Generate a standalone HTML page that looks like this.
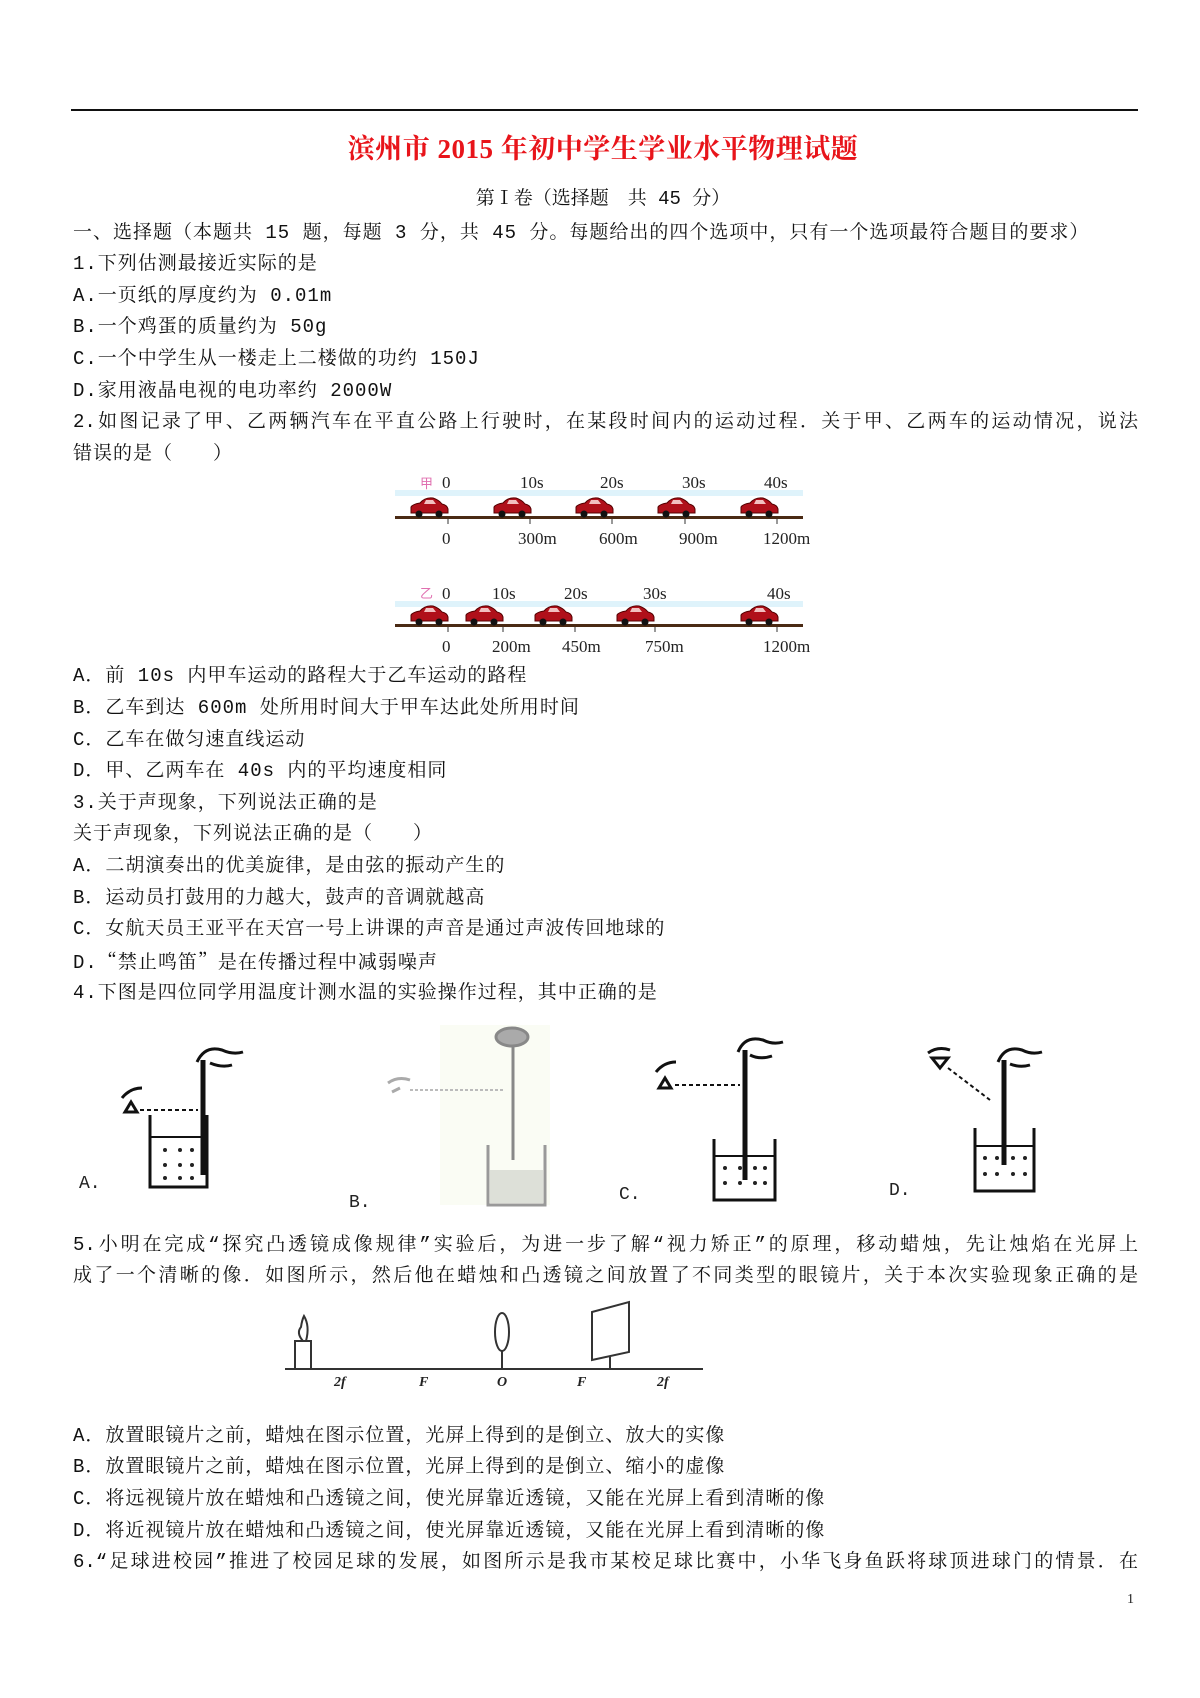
<!DOCTYPE html>
<html><head><meta charset="utf-8"><style>
body{margin:0;background:#fff;}
#p{position:relative;width:1200px;height:1698px;overflow:hidden;font-family:"Liberation Serif","Noto Serif CJK SC",serif;color:#111;}
.l{position:absolute;left:73px;font-size:19px;line-height:28px;white-space:nowrap;letter-spacing:1px;font-family:"Liberation Mono","Noto Serif CJK SC",serif;}
.j{width:1065px;text-align:justify;text-align-last:justify;white-space:normal;letter-spacing:0;}
.c{font-family:"Noto Serif CJK SC",serif;}
</style></head><body><div id="p">
<div style="position:absolute;left:71px;top:109px;width:1067px;height:2px;background:#111"></div>
<div style="position:absolute;left:0;width:1206px;top:127px;text-align:center;font-size:27px;font-weight:bold;color:#e8141a;letter-spacing:0.5px;">滨州市 2015 年初中学生学业水平物理试题</div>
<div style="position:absolute;left:0;width:1206px;top:183px;text-align:center;font-size:19px;font-family:'Liberation Mono','Noto Serif CJK SC',serif;">第Ⅰ卷（选择题　共 45 分）</div>
<div class="l" style="top:219px">一、选择题（本题共 15 题，每题 3 分，共 45 分。每题给出的四个选项中，只有一个选项最符合题目的要求）</div>
<div class="l" style="top:250px">1.下列估测最接近实际的是</div>
<div class="l" style="top:282px">A.一页纸的厚度约为 0.01m</div>
<div class="l" style="top:313px">B.一个鸡蛋的质量约为 50g</div>
<div class="l" style="top:345px">C.一个中学生从一楼走上二楼做的功约 150J</div>
<div class="l" style="top:377px">D.家用液晶电视的电功率约 2000W</div>
<div class="l j" style="top:408px">2.如图记录了甲、乙两辆汽车在平直公路上行驶时，在某段时间内的运动过程．关于甲、乙两车的运动情况，说法</div>
<div class="l" style="top:440px">错误的是（　　）</div>

<svg style="position:absolute;left:0;top:0" width="1200" height="1698" font-family="Liberation Serif, serif" font-size="17">
<defs>
<g id="car"><path d="M-18,7 L-18,1 Q-16,-2 -9,-3 Q-4,-9 4,-8 Q10,-6 13,-2 Q18,-1 19,3 L19,7 Z" fill="#b0101a" stroke="#500" stroke-width="1"/><circle cx="-10" cy="8" r="3.5" fill="#111"/><circle cx="10" cy="8" r="3.5" fill="#111"/><path d="M-3,-6 L4,-6 L7,-2 L-5,-2 Z" fill="#f2c0c0"/></g>
</defs>
<rect x="395" y="490" width="408" height="6" fill="#dff3fb"/>
<rect x="395" y="516" width="408" height="3" fill="#4a2a14"/>
<g fill="#222">
<text x="420" y="488" fill="#e070b0" font-size="13">甲</text>
<text x="442" y="488">0</text><text x="520" y="488">10s</text><text x="600" y="488">20s</text><text x="682" y="488">30s</text><text x="764" y="488">40s</text>
<text x="442" y="544">0</text><text x="518" y="544">300m</text><text x="599" y="544">600m</text><text x="679" y="544">900m</text><text x="763" y="544">1200m</text>
</g>
<g stroke="#333"><line x1="448" y1="519" x2="448" y2="524"/><line x1="530" y1="519" x2="530" y2="524"/><line x1="612" y1="519" x2="612" y2="524"/><line x1="685" y1="519" x2="685" y2="524"/><line x1="777" y1="519" x2="777" y2="524"/></g>
<use href="#car" x="429" y="506"/><use href="#car" x="512" y="506"/><use href="#car" x="594" y="506"/><use href="#car" x="676" y="506"/><use href="#car" x="759" y="506"/>

<rect x="395" y="601" width="408" height="6" fill="#dff3fb"/>
<rect x="395" y="624" width="408" height="3" fill="#4a2a14"/>
<g fill="#222">
<text x="420" y="598" fill="#e070b0" font-size="13">乙</text>
<text x="442" y="599">0</text><text x="492" y="599">10s</text><text x="564" y="599">20s</text><text x="643" y="599">30s</text><text x="767" y="599">40s</text>
<text x="442" y="652">0</text><text x="492" y="652">200m</text><text x="562" y="652">450m</text><text x="645" y="652">750m</text><text x="763" y="652">1200m</text>
</g>
<g stroke="#333"><line x1="448" y1="627" x2="448" y2="632"/><line x1="503" y1="627" x2="503" y2="632"/><line x1="575" y1="627" x2="575" y2="632"/><line x1="655" y1="627" x2="655" y2="632"/><line x1="777" y1="627" x2="777" y2="632"/></g>
<use href="#car" x="429" y="614"/><use href="#car" x="484" y="614"/><use href="#car" x="553" y="614"/><use href="#car" x="635" y="614"/><use href="#car" x="759" y="614"/>

<g stroke="#111" stroke-width="3" fill="none">
<path d="M150,1115 V1187 H207 V1115"/><line x1="150" y1="1137" x2="207" y2="1137" stroke-width="2"/>
<line x1="203" y1="1060" x2="203" y2="1175" stroke-width="5"/>
<path d="M197,1062 Q205,1045 222,1050 Q233,1055 243,1052 M210,1063 Q222,1068 232,1065" stroke-width="3"/>
<path d="M122,1098 Q130,1088 142,1088 M125,1112 L131,1102 L137,1112 Z" stroke-width="3"/>
<line x1="140" y1="1110" x2="198" y2="1110" stroke-dasharray="4,3" stroke-width="2"/>
<path d="M714,1139 V1200 H775 V1139"/><line x1="714" y1="1156" x2="775" y2="1156" stroke-width="2"/>
<line x1="745" y1="1050" x2="745" y2="1180" stroke-width="5"/>
<path d="M738,1052 Q745,1035 763,1040 Q773,1045 783,1042 M750,1055 Q760,1060 772,1056"/>
<path d="M656,1072 Q664,1062 676,1062 M659,1088 L665,1078 L671,1088 Z"/>
<line x1="675" y1="1085" x2="740" y2="1085" stroke-dasharray="4,3" stroke-width="2"/>
<path d="M975,1128 V1191 H1034 V1128"/><line x1="975" y1="1146" x2="1034" y2="1146" stroke-width="2"/>
<line x1="1004" y1="1060" x2="1004" y2="1165" stroke-width="5"/>
<path d="M998,1062 Q1005,1045 1022,1050 Q1032,1055 1042,1052 M1010,1064 Q1020,1068 1030,1065"/>
<path d="M928,1053 Q938,1046 950,1050 M932,1058 L948,1058 L940,1068 Z"/>
<line x1="948" y1="1068" x2="990" y2="1100" stroke-dasharray="4,3" stroke-width="2"/>
</g>
<g fill="#222"><circle cx="165" cy="1150" r="2"/><circle cx="180" cy="1150" r="2"/><circle cx="192" cy="1150" r="2"/><circle cx="165" cy="1165" r="2"/><circle cx="180" cy="1165" r="2"/><circle cx="192" cy="1165" r="2"/><circle cx="165" cy="1178" r="2"/><circle cx="180" cy="1178" r="2"/><circle cx="192" cy="1178" r="2"/>
<circle cx="725" cy="1168" r="2"/><circle cx="740" cy="1168" r="2"/><circle cx="755" cy="1168" r="2"/><circle cx="765" cy="1168" r="2"/><circle cx="725" cy="1183" r="2"/><circle cx="740" cy="1183" r="2"/><circle cx="755" cy="1183" r="2"/><circle cx="765" cy="1183" r="2"/>
<circle cx="985" cy="1158" r="2"/><circle cx="997" cy="1158" r="2"/><circle cx="1013" cy="1158" r="2"/><circle cx="1025" cy="1158" r="2"/><circle cx="985" cy="1174" r="2"/><circle cx="997" cy="1174" r="2"/><circle cx="1013" cy="1174" r="2"/><circle cx="1025" cy="1174" r="2"/></g>
<rect x="440" y="1025" width="110" height="180" fill="#fafcf4"/>
<g stroke="#999" fill="none" stroke-width="3">
<path d="M488,1145 V1205 H545 V1145"/><rect x="490" y="1170" width="53" height="33" fill="#dde0d8" stroke="none"/>
<line x1="513" y1="1040" x2="513" y2="1160" stroke="#888"/>
<ellipse cx="512" cy="1037" rx="16" ry="9" fill="#aaa" stroke="#888"/>
<path d="M388,1083 Q398,1076 410,1080 M392,1092 L400,1088" stroke="#aaa"/>
<line x1="410" y1="1090" x2="505" y2="1090" stroke-dasharray="3,2" stroke="#bbb" stroke-width="2"/>
</g>
<g font-size="18" fill="#222" font-family="Liberation Mono, monospace"><text x="79" y="1188">A.</text><text x="349" y="1207">B.</text><text x="619" y="1199">C.</text><text x="889" y="1195">D.</text></g>

<g stroke="#333" stroke-width="2" fill="none">
<line x1="285" y1="1369" x2="703" y2="1369"/>
<rect x="295" y="1341" width="16" height="28"/>
<path d="M303,1341 Q296,1333 301,1327 Q302,1320 304,1316 Q310,1326 306,1341"/>
<ellipse cx="502" cy="1332" rx="7" ry="19"/><line x1="502" y1="1351" x2="502" y2="1369"/>
<path d="M592,1312 L629,1302 L629,1352 L592,1360 Z"/><line x1="610" y1="1357" x2="610" y2="1369"/>
</g>
<g font-size="14" font-style="italic" font-weight="bold" fill="#222"><text x="334" y="1386">2f</text><text x="419" y="1386">F</text><text x="497" y="1386">O</text><text x="577" y="1386">F</text><text x="657" y="1386">2f</text></g>
<text x="1127" y="1603" font-size="14" fill="#222">1</text>
</svg>

<div class="l" style="top:662px">A．前 10s 内甲车运动的路程大于乙车运动的路程</div>
<div class="l" style="top:694px">B．乙车到达 600m 处所用时间大于甲车达此处所用时间</div>
<div class="l" style="top:726px">C．乙车在做匀速直线运动</div>
<div class="l" style="top:757px">D．甲、乙两车在 40s 内的平均速度相同</div>
<div class="l" style="top:789px">3.关于声现象，下列说法正确的是</div>
<div class="l" style="top:820px">关于声现象，下列说法正确的是（　　）</div>
<div class="l" style="top:852px">A．二胡演奏出的优美旋律，是由弦的振动产生的</div>
<div class="l" style="top:884px">B．运动员打鼓用的力越大，鼓声的音调就越高</div>
<div class="l" style="top:915px">C．女航天员王亚平在天宫一号上讲课的声音是通过声波传回地球的</div>
<div class="l" style="top:947px">D.<span class="c">“</span>禁止鸣笛<span class="c">”</span>是在传播过程中减弱噪声</div>
<div class="l" style="top:979px">4.下图是四位同学用温度计测水温的实验操作过程，其中正确的是</div>
<div class="l j" style="top:1231px">5.小明在完成“探究凸透镜成像规律”实验后，为进一步了解“视力矫正”的原理，移动蜡烛，先让烛焰在光屏上</div>
<div class="l j" style="top:1262px">成了一个清晰的像．如图所示，然后他在蜡烛和凸透镜之间放置了不同类型的眼镜片，关于本次实验现象正确的是</div>
<div class="l" style="top:1422px">A．放置眼镜片之前，蜡烛在图示位置，光屏上得到的是倒立、放大的实像</div>
<div class="l" style="top:1453px">B．放置眼镜片之前，蜡烛在图示位置，光屏上得到的是倒立、缩小的虚像</div>
<div class="l" style="top:1485px">C．将远视镜片放在蜡烛和凸透镜之间，使光屏靠近透镜，又能在光屏上看到清晰的像</div>
<div class="l" style="top:1517px">D．将近视镜片放在蜡烛和凸透镜之间，使光屏靠近透镜，又能在光屏上看到清晰的像</div>
<div class="l j" style="top:1548px">6.“足球进校园”推进了校园足球的发展，如图所示是我市某校足球比赛中，小华飞身鱼跃将球顶进球门的情景．在</div>
</div></body></html>
